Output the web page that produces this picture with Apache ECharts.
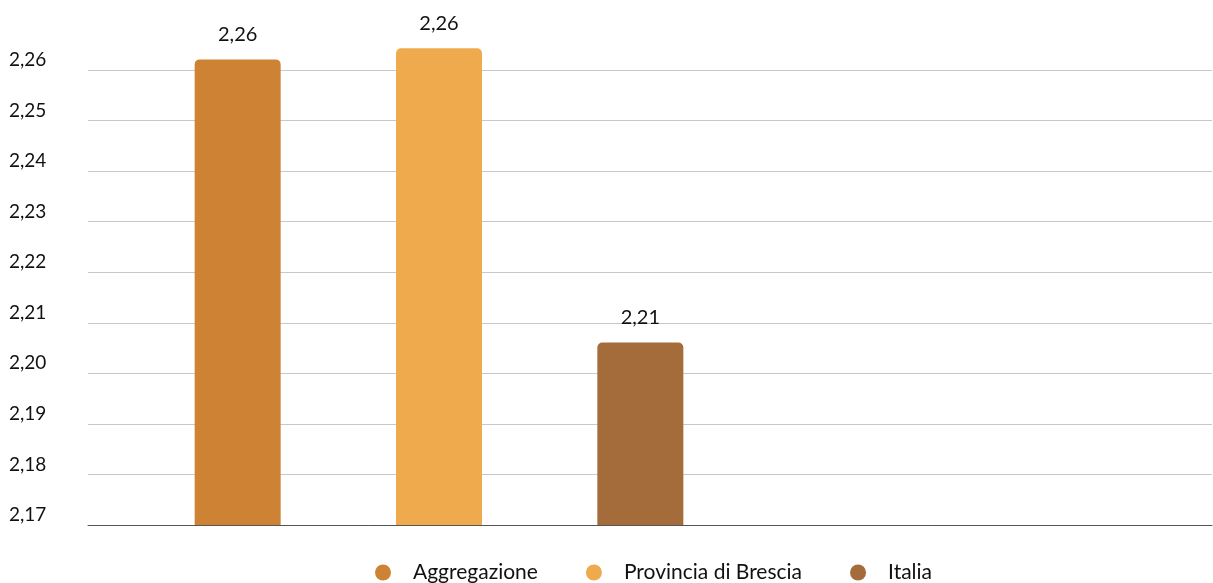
<!DOCTYPE html>
<html>
<head>
<meta charset="utf-8">
<script src="https://cdn.jsdelivr.net/npm/echarts@6/dist/echarts.min.js"></script>
<style>
html,body{margin:0;padding:0;background:#fff;}
#chart{width:1213px;height:583px;}
</style>
</head>
<body>
<div id="chart"></div>
<script>
var categories = ['Aggregazione', 'Provincia di Brescia', 'Italia'];
var values = [2.2621, 2.2643, 2.2061];
var colors = ['#CE8334', '#F0AA4E', '#A36C3A'];
var yMin = 2.17, yMax = 2.26, yStep = 0.01;

function fmt(v) { return v.toFixed(2).replace('.', ','); }

var series = categories.map(function (name, i) {
  var d = categories.map(function (c, j) { return j === i ? values[i] : '-'; });
  return {
    name: name,
    type: 'bar',
    xAxisIndex: 1,
    yAxisIndex: 1,
    data: d,
    barWidth: 86,
    barGap: '-100%',
    itemStyle: { color: colors[i], borderRadius: [5, 5, 0, 0] },
    label: {
      show: true,
      position: 'top',
      distance: 15,
      color: '#111',
      fontSize: 20,
      fontFamily: 'Lato',
      formatter: function (p) { return fmt(p.value); }
    }
  };
});

// grid 1 shares the pixel scale of grid 0 but extends one step higher so bars above the top line are not cut
var pxPerStep = (583 - 70 - 58) / ((yMax - yMin) / yStep);

var chart = echarts.init(document.getElementById('chart'));
chart.setOption({
  animation: false,
  textStyle: { fontFamily: 'Lato' },
  legend: {
    data: categories,
    left: 370,
    top: 557,
    icon: 'circle',
    itemWidth: 50,
    itemHeight: 16,
    itemGap: 48,
    textStyle: { fontSize: 21, color: '#111', fontFamily: 'Lato' }
  },
  grid: [
    { left: 88, right: 1, top: 70, bottom: 58 },
    { left: 137, width: 604, top: 70 - pxPerStep, bottom: 58 }
  ],
  xAxis: [
    { type: 'category', gridIndex: 0, data: [''], axisLine: { lineStyle: { color: '#555', width: 1 } }, axisTick: { show: false }, axisLabel: { show: false } },
    { type: 'category', gridIndex: 1, data: categories, show: false }
  ],
  yAxis: [
    {
      type: 'value', gridIndex: 0, min: yMin, max: yMax, interval: yStep,
      axisLine: { show: false }, axisTick: { show: false },
      splitLine: { lineStyle: { color: '#c8c8c8', width: 1 } },
      axisLabel: {
        align: 'left', margin: 79, verticalAlign: 'bottom', lineHeight: 20,
        fontSize: 19, color: '#111', fontFamily: 'Lato',
        formatter: function (v) { return fmt(v); }
      }
    },
    { type: 'value', gridIndex: 1, min: yMin, max: yMax + yStep, show: false }
  ],
  series: series
});
</script>
</body>
</html>
